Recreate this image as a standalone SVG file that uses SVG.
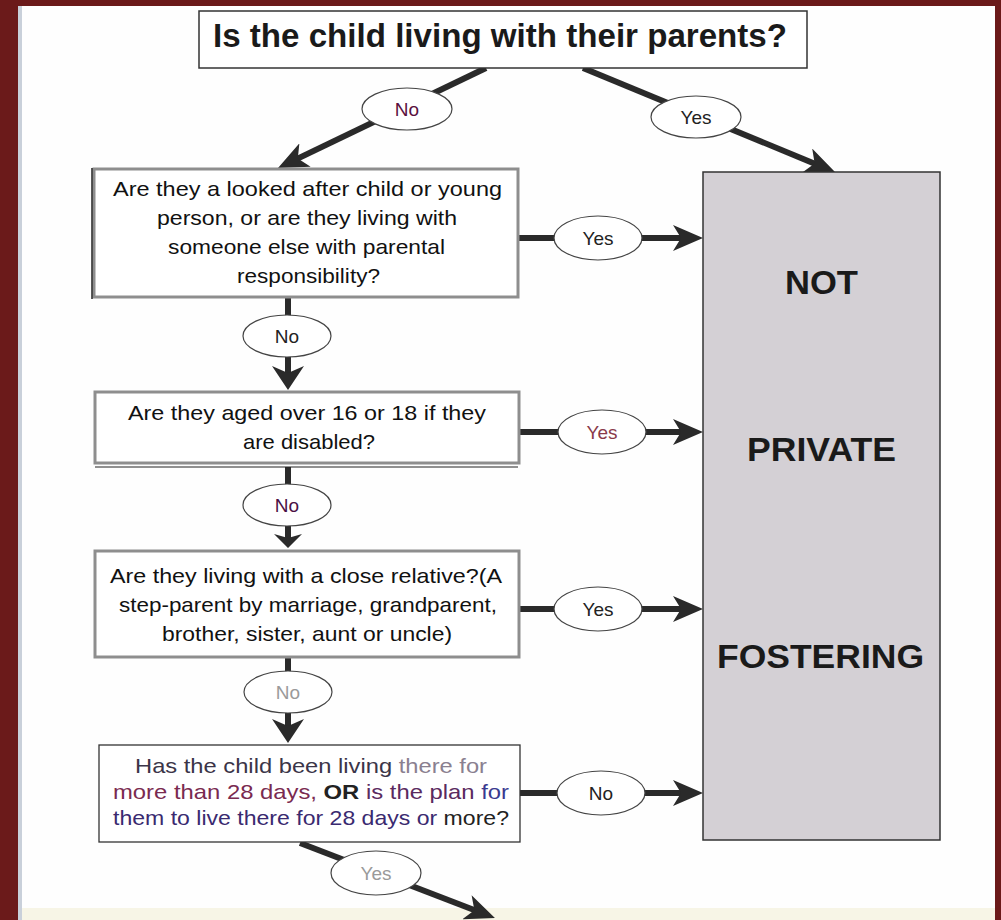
<svg xmlns="http://www.w3.org/2000/svg" width="1001" height="920" viewBox="0 0 1001 920">
<style>
.q{font-family:"Liberation Sans",Arial,sans-serif;font-size:21px;fill:#111}
.q4{font-family:"Liberation Sans",Arial,sans-serif;font-size:21px;fill:#2b2b3a}
.lbl{font-family:"Liberation Sans",Arial,sans-serif;font-size:19px;text-anchor:middle;fill:#222}
.big{font-family:"Liberation Sans",Arial,sans-serif;font-size:34px;font-weight:bold;fill:#1a1a1a}
.gbox{fill:#fff;stroke:#8e8e8e;stroke-width:3}
.ln{stroke:#2a2a2a;stroke-width:6;fill:none}
.ell{fill:#fff;stroke:#444;stroke-width:1.2}
</style>
<defs>
<marker id="ah" viewBox="0 0 30 26" refX="14" refY="13" markerWidth="30" markerHeight="26" markerUnits="userSpaceOnUse" orient="auto"><path d="M0,0 L30,13 L0,26 L8,13 Z" fill="#2a2a2a"/></marker>
<marker id="ahv" viewBox="0 0 24 32" refX="12" refY="16" markerWidth="24" markerHeight="32" markerUnits="userSpaceOnUse" orient="auto"><path d="M0,0 L24,16 L0,32 L7,16 Z" fill="#2a2a2a"/></marker>
<marker id="ahs" viewBox="0 0 14 28" refX="7" refY="14" markerWidth="14" markerHeight="28" markerUnits="userSpaceOnUse" orient="auto"><path d="M0,0 L14,14 L0,28 L4,14 Z" fill="#2a2a2a"/></marker>
</defs>
<g id="frame">
<rect x="0" y="0" width="1001" height="920" fill="#fefefe"/>
<rect x="0" y="908" width="1001" height="12" fill="#f7f5e6"/>
<rect x="0" y="0" width="1001" height="6" fill="#6b1a1a"/>
<rect x="0" y="0" width="18" height="920" fill="#6b1a1a"/>
<rect x="18" y="6" width="4" height="914" fill="#c9d0da"/>
<rect x="995" y="0" width="6" height="920" fill="#6b1a1a"/>
</g>
<g id="connectors">
<line class="ln" x1="486" y1="68" x2="292.4" y2="161.1" marker-end="url(#ah)"/>
<line class="ln" x1="583" y1="68" x2="820.2" y2="165.9" marker-end="url(#ah)"/>
<line class="ln" x1="288" y1="298" x2="288" y2="378" marker-end="url(#ahv)"/>
<line class="ln" x1="288" y1="467" x2="288" y2="541" marker-end="url(#ahs)"/>
<line class="ln" x1="288" y1="657" x2="288" y2="731" marker-end="url(#ahv)"/>
<line class="ln" x1="300" y1="843" x2="480" y2="912.3" marker-end="url(#ah)"/>
<line class="ln" x1="519" y1="238" x2="687" y2="238" marker-end="url(#ah)"/>
<line class="ln" x1="519" y1="432" x2="687" y2="432" marker-end="url(#ah)"/>
<line class="ln" x1="519" y1="609" x2="687" y2="609" marker-end="url(#ah)"/>
<line class="ln" x1="520" y1="793" x2="687" y2="793" marker-end="url(#ah)"/>
<ellipse class="ell" cx="407" cy="109" rx="45" ry="21"/>
<text class="lbl" x="407" y="116" fill="#5a1040" style="fill:#5a1040">No</text>
<ellipse class="ell" cx="696" cy="117" rx="45" ry="21"/>
<text class="lbl" x="696" y="124">Yes</text>
<ellipse class="ell" cx="598" cy="238" rx="44" ry="22"/>
<text class="lbl" x="598" y="245">Yes</text>
<ellipse class="ell" cx="287" cy="336" rx="44" ry="21"/>
<text class="lbl" x="287" y="343">No</text>
<ellipse class="ell" cx="602" cy="432" rx="44" ry="22"/>
<text class="lbl" x="602" y="439" style="fill:#8a3a4a">Yes</text>
<ellipse class="ell" cx="287" cy="505" rx="44" ry="21"/>
<text class="lbl" x="287" y="512" style="fill:#4a1045">No</text>
<ellipse class="ell" cx="598" cy="609" rx="44" ry="22"/>
<text class="lbl" x="598" y="616">Yes</text>
<ellipse class="ell" cx="288" cy="692" rx="44" ry="21"/>
<text class="lbl" x="288" y="699" style="fill:#9a9a9a">No</text>
<ellipse class="ell" cx="601" cy="793" rx="44" ry="22"/>
<text class="lbl" x="601" y="800">No</text>
<ellipse class="ell" cx="376" cy="873" rx="45" ry="22"/>
<text class="lbl" x="376" y="880" style="fill:#9a9a9a">Yes</text>
</g>
<g id="title">
<rect x="199" y="11" width="608" height="57" fill="#fff" stroke="#333" stroke-width="1.5"/>
<text x="213" y="47" font-family="'Liberation Sans Narrow','Liberation Sans',Arial,sans-serif" font-size="34" font-weight="bold" fill="#1a1a1a" textLength="574" lengthAdjust="spacingAndGlyphs">Is the child living with their parents?</text>
</g>
<g id="q1">
<rect class="gbox" x="94" y="169" width="424" height="128"/>
<line x1="92" y1="168" x2="92" y2="299" stroke="#222" stroke-width="1.5"/>
<text class="q" x="113" y="196" textLength="389" lengthAdjust="spacingAndGlyphs">Are they a looked after child or young</text>
<text class="q" x="157" y="225" textLength="300" lengthAdjust="spacingAndGlyphs">person, or are they living with</text>
<text class="q" x="168" y="254" textLength="277" lengthAdjust="spacingAndGlyphs">someone else with parental</text>
<text class="q" x="237" y="283" textLength="143" lengthAdjust="spacingAndGlyphs">responsibility?</text>
</g>
<g id="q2">
<rect class="gbox" x="95" y="392" width="424" height="71"/>
<line x1="95" y1="467" x2="518" y2="467" stroke="#222" stroke-width="1.2"/>
<text class="q" x="128" y="420" textLength="358" lengthAdjust="spacingAndGlyphs">Are they aged over 16 or 18 if they</text>
<text class="q" x="243" y="449" textLength="132" lengthAdjust="spacingAndGlyphs">are disabled?</text>
</g>
<g id="q3">
<rect class="gbox" x="95" y="551" width="424" height="106"/>
<text class="q" x="110" y="583" textLength="392" lengthAdjust="spacingAndGlyphs">Are they living with a close relative?(A</text>
<text class="q" x="119" y="612" textLength="378" lengthAdjust="spacingAndGlyphs">step-parent by marriage, grandparent,</text>
<text class="q" x="162" y="641" textLength="290" lengthAdjust="spacingAndGlyphs">brother, sister, aunt or uncle)</text>
</g>
<g id="q4">
<rect x="99" y="745" width="421" height="97" fill="#fff" stroke="#333" stroke-width="1.3"/>
<text class="q4" x="135" y="773" textLength="352" lengthAdjust="spacingAndGlyphs"><tspan fill="#3b3548">Has the child been living</tspan><tspan fill="#8a8090"> there for</tspan></text>
<text class="q4" x="113" y="799" textLength="396" lengthAdjust="spacingAndGlyphs"><tspan fill="#7a2a50">more than 28 days, </tspan><tspan fill="#222" font-weight="bold">OR</tspan><tspan fill="#5a2a60"> is the plan </tspan><tspan fill="#3a3a90">for</tspan></text>
<text class="q4" x="113" y="825" textLength="396" lengthAdjust="spacingAndGlyphs"><tspan fill="#3a2a70">them to live there for 28 days or </tspan><tspan fill="#222">more?</tspan></text>
</g>
<g id="result">
<rect x="703" y="172" width="237" height="668" fill="#d4d0d5" stroke="#333" stroke-width="1.5"/>
<text class="big" x="785" y="294" textLength="73" lengthAdjust="spacingAndGlyphs">NOT</text>
<text class="big" x="747" y="461" textLength="149" lengthAdjust="spacingAndGlyphs">PRIVATE</text>
<text class="big" x="717" y="668" textLength="207" lengthAdjust="spacingAndGlyphs">FOSTERING</text>
</g>
</svg>
